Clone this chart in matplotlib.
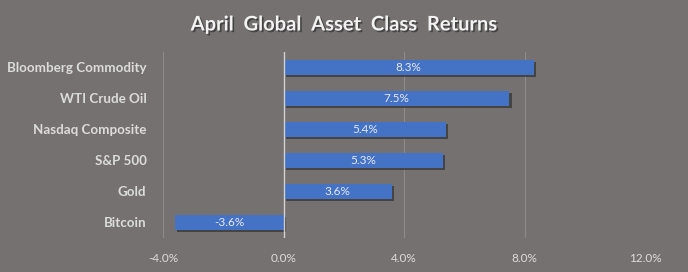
import matplotlib

matplotlib.use("Agg")
import matplotlib.pyplot as plt
import matplotlib.patheffects as pe
from matplotlib.ticker import FuncFormatter

# dados (retornos de abril, %)
assets = ["Bloomberg Commodity", "WTI Crude Oil", "Nasdaq Composite",
          "S&P 500", "Gold", "Bitcoin"]
returns = [8.3, 7.5, 5.4, 5.3, 3.6, -3.6]
xticks = [-4, 0, 4, 8, 12]

bg = "#767171"
txt = "#DCDCDC"

plt.rcParams["font.family"] = ["Lato", "DejaVu Sans"]
fig = plt.figure(figsize=(6.88, 2.72), dpi=100, facecolor=bg)
ax = fig.add_axes([0.237, 0.125, 0.7005, 0.684], facecolor=bg)

y = list(range(len(assets)))
shadow = [pe.SimplePatchShadow(offset=(1.5, -1.5), shadow_rgbFace="#3a3838", alpha=0.8), pe.Normal()]
bars = ax.barh(y, returns, height=0.46, color="#4472C4", zorder=3)
for b in bars:
    b.set_path_effects(shadow)

for i, v in enumerate(returns):
    ax.text(v / 2, i, f"{v:.1f}%", ha="center", va="center",
            color="#E8E8F0", fontsize=8.5, zorder=5)

ax.set_xlim(-4, 12)
ax.set_ylim(5.5, -0.5)
ax.set_xticks(xticks)
ax.xaxis.set_major_formatter(FuncFormatter(lambda v, _: f"{v:.1f}%"))
ax.set_yticks(y)
ax.set_yticklabels(assets, fontsize=9.6, fontweight="bold", color=txt)
ax.tick_params(axis="x", colors=txt, labelsize=8.5, length=0, pad=11)
ax.tick_params(axis="y", length=0, pad=12)
ax.grid(axis="x", color="#8E8A8A", linewidth=0.8, zorder=0)
ax.axvline(0, color="#D0D0D0", linewidth=1, zorder=4)
for s in ax.spines.values():
    s.set_visible(False)

fig.text(0.5, 0.91, "April  Global  Asset  Class  Returns", ha="center",
         va="center", fontsize=14.5, fontweight="bold", color="#F2F2F2",
         path_effects=[pe.withSimplePatchShadow(offset=(1.2, -1.2), shadow_rgbFace="#303030", alpha=0.7)])

fig.savefig("out.png", facecolor=bg)
